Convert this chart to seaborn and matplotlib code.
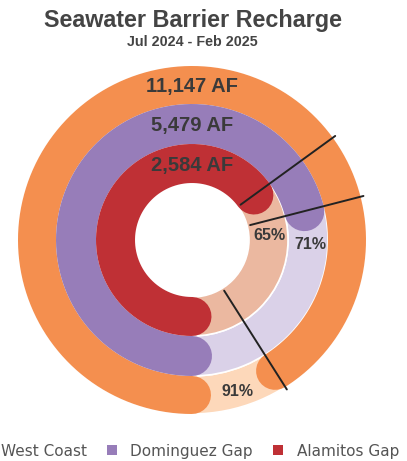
import numpy as np
import matplotlib
matplotlib.use("Agg")
import matplotlib.pyplot as plt
import seaborn as sns
from matplotlib.patches import Patch

# data
regions = ["West Coast", "Dominguez Gap", "Alamitos Gap"]
recharge_af = [11147, 5479, 2584]
percent_of_goal = [91, 71, 65]

title = "Seawater Barrier Recharge"
subtitle = "Jul 2024 - Feb 2025"

sns.set_theme(style="white")
plt.rcParams["font.family"] = ["Liberation Sans", "DejaVu Sans"]

fill_colors = ["#F48F4F", "#977DB9", "#BF3035"]
track_colors = ["#FDD8BA", "#DAD1E8", "#EBB8A0"]
text_color = "#3A3A3A"

# ring geometry in pixels (1 data unit = 1 px)
ring_mid = [155, 116, 76.5]
ring_width = [38, 40, 39]
pct_label_theta = [163.2, 92.1, 86.8]   # degrees clockwise from top
pct_label_r = [157.8, 118, 77.4]
dpi = 100

fig = plt.figure(figsize=(4.07, 4.61), dpi=dpi)
cx, cy, rmax = 192, 240, 180
ax = fig.add_axes([(cx - rmax) / 407, (461 - cy - rmax) / 461,
                   2 * rmax / 407, 2 * rmax / 461], projection="polar")
ax.set_theta_zero_location("S")
ax.set_theta_direction(-1)
ax.set_ylim(0, rmax)
ax.axis("off")

for i, name in enumerate(regions):
    r0 = ring_mid[i] - ring_width[i] / 2
    # background track
    ax.bar(0, ring_width[i], width=2 * np.pi, bottom=r0,
           color=track_colors[i], edgecolor="white", linewidth=1.2,
           align="edge", zorder=1)
    # filled arc with round caps (theta sampled only to bend the line)
    end = percent_of_goal[i] / 100 * 2 * np.pi
    arc = np.linspace(0, end, 300)
    ax.plot(arc, np.full_like(arc, ring_mid[i]), color=fill_colors[i],
            lw=ring_width[i] * 72 / dpi, solid_capstyle="round", zorder=2)

for i in range(len(regions)):
    end = percent_of_goal[i] / 100 * 2 * np.pi
    ax.plot([end, end], [60, 177], color="#222222", lw=1.4, zorder=4)
    ax.text(np.pi, ring_mid[i] - 1.5,
            f"{recharge_af[i]:,} AF", ha="center", va="center",
            fontsize=14.5, fontweight="bold", color=text_color, zorder=5)
    th = np.deg2rad(pct_label_theta[i] + 180)
    ax.text(th, pct_label_r[i], f"{percent_of_goal[i]}%", ha="center",
            va="center", fontsize=11.5, fontweight="bold", color=text_color,
            zorder=5)

fig.text(192.5 / 407, 1 - 21 / 461, title, ha="center", va="center",
         fontsize=16.8, fontweight="bold", color="#444444")
fig.text(192.5 / 407, 1 - 42 / 461, subtitle, ha="center", va="center",
         fontsize=10.3, fontweight="bold", color="#444444")

handles = [Patch(facecolor=c, edgecolor="none") for c in fill_colors]
leg = fig.legend(handles, regions, loc="center right",
                 bbox_to_anchor=(399 / 407, 1 - 451 / 461), ncol=3,
                 frameon=False, borderpad=0, borderaxespad=0,
                 handlelength=0.65, handleheight=0.65, handletextpad=0.9,
                 columnspacing=1.3,
                 prop={"family": "DejaVu Sans", "size": 11})
for t in leg.get_texts():
    t.set_color("#555555")

fig.savefig("out.png", dpi=dpi)
